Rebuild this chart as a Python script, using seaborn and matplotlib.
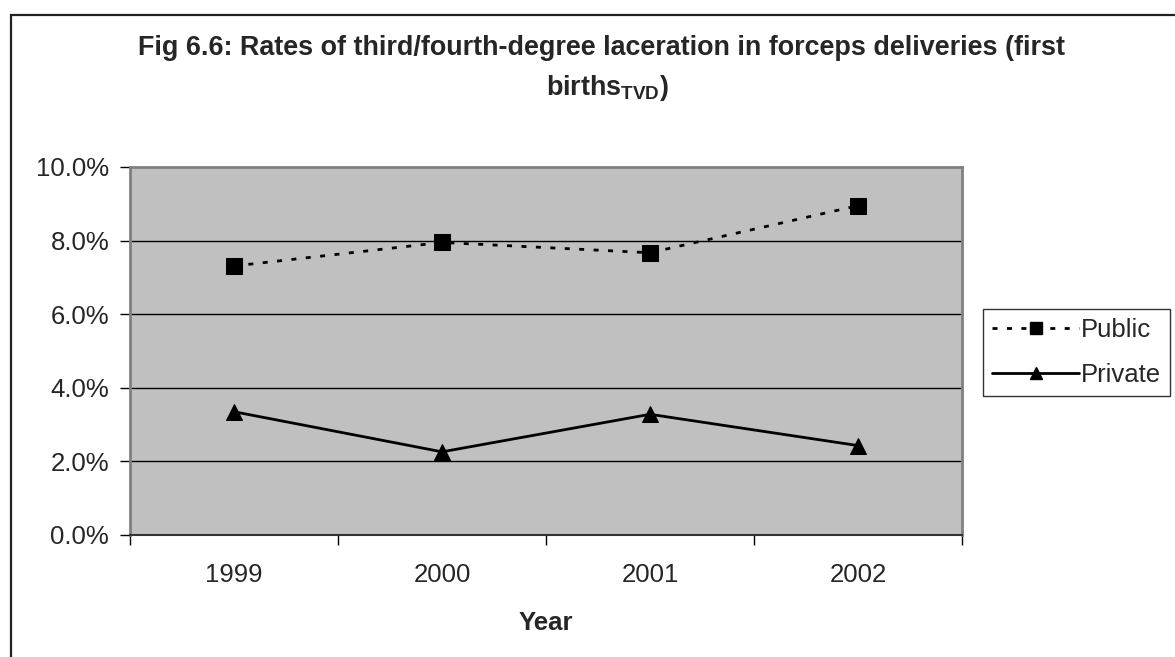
import matplotlib
matplotlib.use("Agg")
import matplotlib.pyplot as plt
import matplotlib.patches as mpatches
from matplotlib.ticker import FixedLocator, FuncFormatter
import seaborn as sns
import pandas as pd

years = ["1999", "2000", "2001", "2002"]
public_rates = [7.31, 7.95, 7.67, 8.95]
private_rates = [3.35, 2.26, 3.28, 2.43]
series_names = ["Public", "Private"]

sns.set_theme(style="white")
plt.rcParams["font.family"] = ["Liberation Sans", "DejaVu Sans"]
plt.rcParams["mathtext.fontset"] = "custom"
plt.rcParams["mathtext.rm"] = "Liberation Sans"
plt.rcParams["mathtext.bf"] = "Liberation Sans:bold"

FS = 18.5
TITLE_FS = 19.4
DOTTED = (1.8, 3.4)

df = pd.DataFrame({
    "pos": list(range(len(years))) * 2,
    "rate": public_rates + private_rates,
    "sector": [series_names[0]] * len(years) + [series_names[1]] * len(years),
})

W, H = 1175, 657
fig = plt.figure(figsize=(W / 100, H / 100), dpi=100)
fig.patch.set_facecolor("white")

# outer chart frame
frame = mpatches.Rectangle((11 / W, -0.05), 1.2, (H - 15) / H + 0.05,
                           transform=fig.transFigure, fill=False,
                           edgecolor="#222222", linewidth=1.6, zorder=0)
fig.patches.append(frame)

left, right, top, bottom = 130, 962, 167, 535
ax = fig.add_axes([left / W, (H - bottom) / H, (right - left) / W, (bottom - top) / H])
ax.set_facecolor("#C0C0C0")

sns.lineplot(
    data=df, x="pos", y="rate", hue="sector", style="sector",
    palette={"Public": "black", "Private": "black"},
    markers={"Public": "s", "Private": "^"},
    dashes={"Public": DOTTED, "Private": ""},
    markersize=11, linewidth=2.0, markeredgecolor="black",
    legend=False, ax=ax, zorder=3,
)

ax.set_xlim(-0.5, len(years) - 0.5)
ax.set_ylim(0, 10)

# category labels centred, ticks on category boundaries
ax.xaxis.set_major_locator(FixedLocator([i - 0.5 for i in range(len(years) + 1)]))
ax.xaxis.set_minor_locator(FixedLocator(list(range(len(years)))))
ax.set_xticklabels([])
ax.set_xticklabels(years, minor=True)
ax.tick_params(axis="x", which="major", length=7, width=1, color="black",
               direction="out", bottom=True)
ax.tick_params(axis="x", which="minor", length=0, labelsize=FS, pad=20.5)

ax.yaxis.set_major_locator(FixedLocator([0, 2, 4, 6, 8, 10]))
ax.yaxis.set_major_formatter(FuncFormatter(lambda v, p: f"{v:.1f}%"))
ax.tick_params(axis="y", length=7, width=1, color="black", direction="out",
               left=True, labelsize=FS, pad=8)

for y in [2, 4, 6, 8]:
    ax.axhline(y, color="black", linewidth=1.0, zorder=1)

for side in ["left", "right", "top"]:
    ax.spines[side].set_color("#808080")
    ax.spines[side].set_linewidth(2)
ax.spines["bottom"].set_color("#333333")
ax.spines["bottom"].set_linewidth(1.5)

ax.set_xlabel("Year", fontsize=FS, fontweight="bold", labelpad=17)
ax.set_ylabel("")

fig.text(601 / W, 1 - 48 / H,
         "Fig 6.6: Rates of third/fourth-degree laceration in forceps deliveries (first",
         ha="center", va="center", fontsize=TITLE_FS, fontweight="bold")
fig.text(607 / W, 1 - 88 / H, r"births$_\mathbf{TVD}$)",
         ha="center", va="center", fontsize=TITLE_FS, fontweight="bold")

# legend
handles = [
    plt.Line2D([], [], color="black", linestyle=(0, DOTTED), linewidth=2.0,
               marker="s", markersize=9),
    plt.Line2D([], [], color="black", linestyle="-", linewidth=2.0,
               marker="^", markersize=9),
]
leg = fig.legend(handles, series_names, loc="upper left",
                 bbox_to_anchor=(983 / W, 1 - 309 / H),
                 frameon=True, fancybox=False, fontsize=FS,
                 handlelength=3.4, handletextpad=0.05, borderpad=0.35,
                 labelspacing=0.8, borderaxespad=0)
leg.get_frame().set_edgecolor("black")
leg.get_frame().set_linewidth(1.0)

fig.savefig("out.png", dpi=100, facecolor="white")
